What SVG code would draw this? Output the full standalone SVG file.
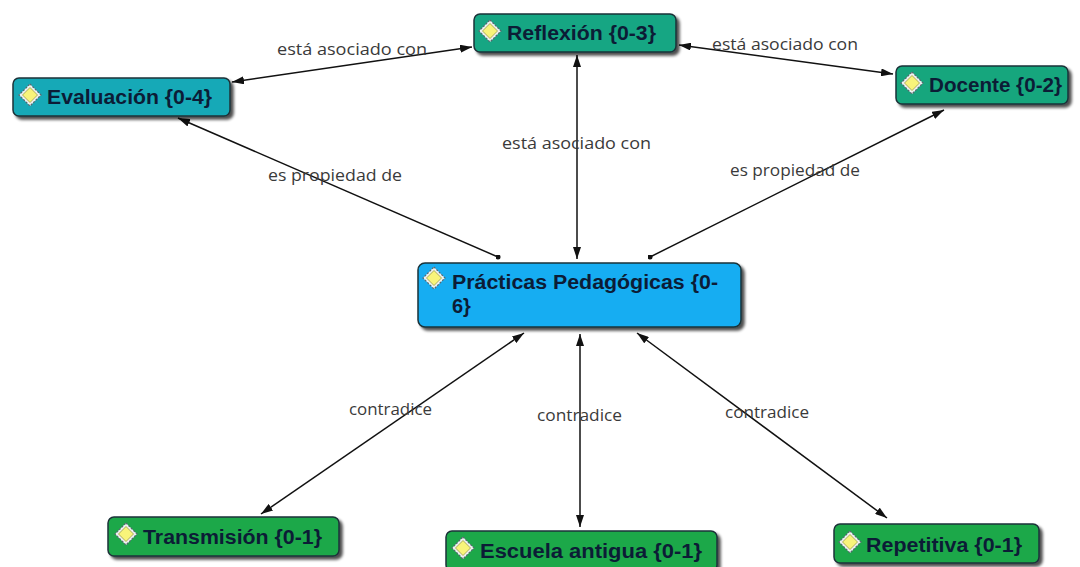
<svg xmlns="http://www.w3.org/2000/svg" width="1080" height="567" viewBox="0 0 1080 567">
<style>
.node rect.box{stroke:#1b3338;stroke-width:1.5}
.ntext{font-family:"Liberation Sans",Arial,sans-serif;font-weight:bold;font-size:20px;fill:#0c1c36}
.lbl{font-family:"Open Sans","Liberation Sans",sans-serif;font-size:16px;fill:#3a3a3a}
.conn line{stroke:#111;stroke-width:1.5}
</style>
<defs>
<filter id="sh" x="-10%" y="-20%" width="130%" height="160%">
<feGaussianBlur in="SourceAlpha" stdDeviation="1.6"/>
<feOffset dx="3" dy="3" result="b"/>
<feComponentTransfer><feFuncA type="linear" slope="0.7"/></feComponentTransfer>
<feMerge><feMergeNode/><feMergeNode in="SourceGraphic"/></feMerge>
</filter>
<marker id="arr" viewBox="0 0 12 8" refX="12" refY="4" markerWidth="12" markerHeight="8" markerUnits="userSpaceOnUse" orient="auto-start-reverse">
<path d="M0,0 L12,4 L0,8 z" fill="#111"/>
</marker>
<marker id="dot" viewBox="0 0 6 6" refX="3" refY="3" markerWidth="5" markerHeight="5" markerUnits="userSpaceOnUse">
<circle cx="3" cy="3" r="3" fill="#111"/>
</marker>
<g id="icon">
<path d="M0,-11 L11,0 L0,11 L-11,0 z" fill="#eef2f2" stroke="#5a6a70" stroke-width="1.2" stroke-dasharray="2 1.5"/>
<path d="M0,-7.5 L7.5,0 L0,7.5 L-7.5,0 z" fill="#f8f47a" stroke="#9a9a40" stroke-width="0.8"/>
</g>
</defs>
<rect width="1080" height="567" fill="#ffffff"/>

<g id="connectors" class="conn">
<line x1="232" y1="82" x2="472" y2="47" marker-start="url(#arr)" marker-end="url(#arr)"/>
<line x1="679" y1="45" x2="893" y2="74" marker-start="url(#arr)" marker-end="url(#arr)"/>
<line x1="577" y1="55" x2="577" y2="259" marker-start="url(#arr)" marker-end="url(#arr)"/>
<line x1="498" y1="257" x2="178" y2="118" marker-start="url(#dot)" marker-end="url(#arr)"/>
<line x1="650" y1="257" x2="944" y2="110" marker-start="url(#dot)" marker-end="url(#arr)"/>
<line x1="524" y1="333" x2="261" y2="514" marker-start="url(#arr)" marker-end="url(#arr)"/>
<line x1="580" y1="334" x2="580" y2="527" marker-start="url(#arr)" marker-end="url(#arr)"/>
<line x1="637" y1="333" x2="887" y2="518" marker-start="url(#arr)" marker-end="url(#arr)"/>
<text class="lbl" x="277" y="55" textLength="150" lengthAdjust="spacingAndGlyphs">está  asociado con</text>
<text class="lbl" x="712" y="50" textLength="146" lengthAdjust="spacingAndGlyphs">está  asociado con</text>
<text class="lbl" x="502" y="149" textLength="149" lengthAdjust="spacingAndGlyphs">está  asociado con</text>
<text class="lbl" x="268" y="181" textLength="134" lengthAdjust="spacingAndGlyphs">es propiedad de</text>
<text class="lbl" x="730" y="176" textLength="130" lengthAdjust="spacingAndGlyphs">es propiedad de</text>
<text class="lbl" x="349" y="415" textLength="83" lengthAdjust="spacingAndGlyphs">contradice</text>
<text class="lbl" x="537" y="421" textLength="85" lengthAdjust="spacingAndGlyphs">contradice</text>
<text class="lbl" x="725" y="418" textLength="84" lengthAdjust="spacingAndGlyphs">contradice</text>
</g>

<g id="node-evaluacion" class="node">
<rect class="box" x="13" y="78" width="217" height="38" rx="6" fill="#19a9b7" filter="url(#sh)"/>
<use href="#icon" x="30" y="95"/>
<text class="ntext" x="47" y="104" textLength="165" lengthAdjust="spacingAndGlyphs">Evaluación {0-4}</text>
</g>

<g id="node-reflexion" class="node">
<rect class="box" x="474" y="14" width="202" height="38" rx="6" fill="#17a683" filter="url(#sh)"/>
<use href="#icon" x="490" y="31"/>
<text class="ntext" x="507" y="40" textLength="149" lengthAdjust="spacingAndGlyphs">Reflexión {0-3}</text>
</g>

<g id="node-docente" class="node">
<rect class="box" x="896" y="66" width="172" height="38" rx="6" fill="#17a67d" filter="url(#sh)"/>
<use href="#icon" x="912" y="83"/>
<text class="ntext" x="929" y="92" textLength="133" lengthAdjust="spacingAndGlyphs">Docente {0-2}</text>
</g>

<g id="node-practicas" class="node">
<rect class="box" x="418" y="263" width="323" height="64" rx="7" fill="#12adf2" filter="url(#sh)"/>
<use href="#icon" x="434" y="278"/>
<text class="ntext" x="452" y="289" textLength="266" lengthAdjust="spacingAndGlyphs">Prácticas Pedagógicas {0-</text>
<text class="ntext" x="452" y="313">6}</text>
</g>

<g id="node-transmision" class="node">
<rect class="box" x="108" y="517" width="231" height="39" rx="6" fill="#1fa84a" filter="url(#sh)"/>
<use href="#icon" x="126" y="534"/>
<text class="ntext" x="143" y="544" textLength="179" lengthAdjust="spacingAndGlyphs">Transmisión {0-1}</text>
</g>

<g id="node-escuela" class="node">
<rect class="box" x="446" y="531" width="271" height="40" rx="6" fill="#1fa84a" filter="url(#sh)"/>
<use href="#icon" x="463" y="548"/>
<text class="ntext" x="480" y="558" textLength="222" lengthAdjust="spacingAndGlyphs">Escuela antigua {0-1}</text>
</g>

<g id="node-repetitiva" class="node">
<rect class="box" x="834" y="524" width="205" height="39" rx="6" fill="#1fa84a" filter="url(#sh)"/>
<use href="#icon" x="850" y="542"/>
<text class="ntext" x="866" y="552" textLength="156" lengthAdjust="spacingAndGlyphs">Repetitiva {0-1}</text>
</g>
</svg>
